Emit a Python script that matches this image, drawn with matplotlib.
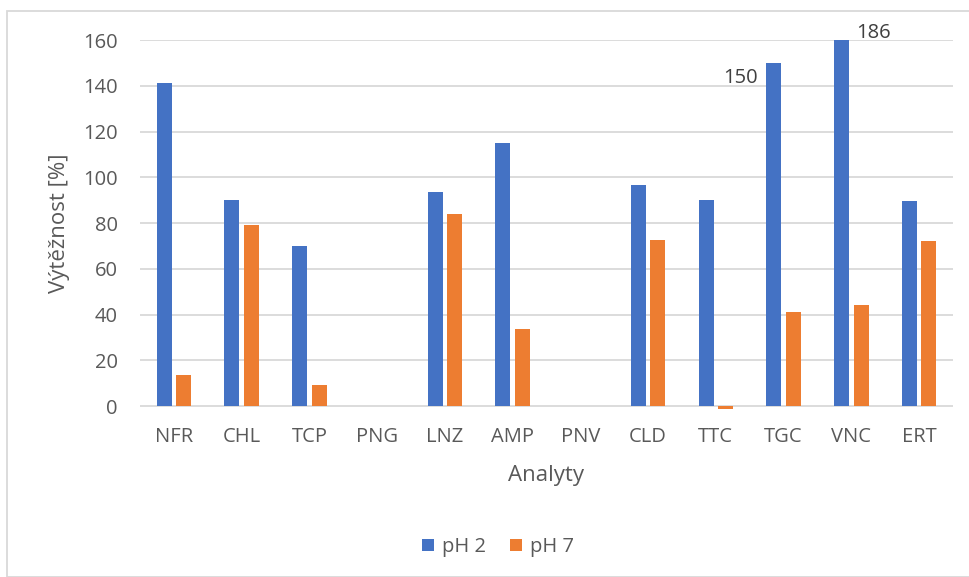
import numpy as np
import matplotlib
matplotlib.use("Agg")
import matplotlib.pyplot as plt
from matplotlib.patches import Rectangle

analyty = ["NFR", "CHL", "TCP", "PNG", "LNZ", "AMP", "PNV", "CLD", "TTC", "TGC", "VNC", "ERT"]
ph2 = [141.2, 90.2, 69.9, np.nan, 93.6, 115.1, np.nan, 96.6, 90.2, 150, 186, 89.6]
ph7 = [13.5, 79.3, 9.2, np.nan, 83.8, 33.8, np.nan, 72.6, -1.2, 41.0, 44.2, 72.0]
popisky = [9, 10]  # sloupce pH 2 s vypsanou hodnotou

plt.rcParams['font.family'] = ['Open Sans', 'DejaVu Sans']
seda = "#595959"
fs = 14.5

W, H = 969, 577
fig = plt.figure(figsize=(W / 100, H / 100), dpi=100)
# rámeček grafu (oříznutý screenshot)
fig.patches.append(Rectangle((7 / W, 0), 1, 1 - 11 / H, transform=fig.transFigure,
                             fill=False, edgecolor="#d9d9d9", lw=1.3))

ax = fig.add_axes([140 / W, 1 - 409 / H, (953 - 140) / W, (409 - 40) / H])
x = np.arange(len(analyty))
w = 0.22
off = 0.143
ymax = 160
ax.bar(x - off, np.minimum(ph2, ymax), w, color="#4472C4", label="pH 2")
ax.bar(x + off, ph7, w, color="#ED7D31", label="pH 7")

ax.set_xlim(-0.5, len(analyty) - 0.5)
ax.set_ylim(-1.3, ymax)
ax.set_yticks(np.arange(0, 161, 20))
ax.set_xticks(x)
ax.set_xticklabels(analyty)
ax.grid(axis="y", color="#d9d9d9", lw=1.3)
ax.set_axisbelow(True)
for s in ax.spines.values():
    s.set_visible(False)
ax.tick_params(length=0, labelsize=fs, labelcolor=seda)
ax.tick_params(axis="x", pad=13)
ax.tick_params(axis="y", pad=16)

for i in popisky:
    v = ph2[i]
    if v > ymax:
        ax.annotate(f"{v:.0f}", (x[i] - off + w / 2, ymax), xytext=(5, 5),
                    textcoords="offset points", ha="left", va="center",
                    fontsize=fs, color="#404040")
    else:
        ax.annotate(f"{v:.0f}", (x[i] - off - w / 2, v), xytext=(-6, -11),
                    textcoords="offset points", ha="right", va="center",
                    fontsize=fs, color="#404040")

fig.text(60 / W, 1 - 223 / H, "Výtěžnost [%]", rotation=90, ha="center", va="center",
         fontsize=16, color=seda)
fig.text(546 / W, 1 - 476 / H, "Analyty", ha="center", va="center", fontsize=16, color=seda)

fig.legend(loc="center", bbox_to_anchor=(498 / W, 1 - 547 / H), ncol=2, frameon=False,
           fontsize=fs, labelcolor=seda, handlelength=0.6, handleheight=0.6,
           handletextpad=0.4, columnspacing=1.2)

fig.savefig("out.png", dpi=100)
